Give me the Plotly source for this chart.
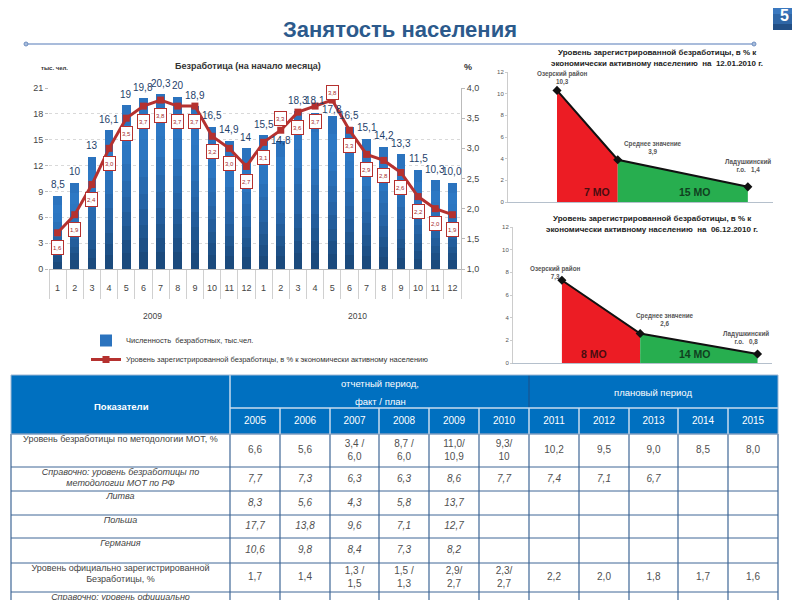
# employment slide: unemployment combo chart, two district charts, indicator table

import plotly.graph_objects as go

SANS = "Liberation Sans, Arial, sans-serif"

# --- main chart data
months = [1, 2, 3, 4, 5, 6, 7, 8, 9, 10, 11, 12] * 2
unemployed = [8.5, 10, 13, 16.1, 19, 19.8, 20.3, 20, 18.9, 16.5, 14.9, 14,
              15.5, 14.8, 18.3, 18.1, 17.8, 16.5, 15.1, 14.2, 13.3, 11.5, 10.3, 10.0]
unemployed_labels = ["8,5", "10", "13", "16,1", "19", "19,8", "20,3", "20", "18,9", "16,5", "14,9", "14",
                     "15,5", "14,8", "18,3", "18,1", "17,8", "16,5", "15,1", "14,2", "13,3", "11,5", "10,3", "10,0"]
rate = [1.6, 1.9, 2.4, 3.0, 3.5, 3.7, 3.8, 3.7, 3.7, 3.2, 3.0, 2.7,
        3.1, 3.3, 3.6, 3.7, 3.8, 3.3, 2.9, 2.8, 2.6, 2.2, 2.0, 1.9]
years = ["2009", "2010"]

# --- district charts data
jan_share = [0, 7, 22]
jan_rate = [10.3, 3.9, 1.4]
dec_share = [0, 9.2, 23]
dec_rate = [7.3, 2.6, 0.8]

# --- table data
table_years = ["2005", "2006", "2007", "2008", "2009", "2010", "2011", "2012", "2013", "2014", "2015"]
row_names = [
    "Уровень безработицы по методологии МОТ, %",
    "<i>Справочно: уровень безработицы по<br>методологии МОТ по РФ</i>",
    "<i>Литва</i>",
    "<i>Польша</i>",
    "<i>Германия</i>",
    "Уровень официально зарегистрированной<br>Безработицы, %",
    "<i>Справочно: уровень официально</i>",
]
row_ilo = ["6,6", "5,6", "3,4 /<br>6,0", "8,7 /<br>6,0", "11,0/<br>10,9", "9,3/<br>10",
           "10,2", "9,5", "9,0", "8,5", "8,0"]
row_ilo_rf = ["7,7", "7,3", "6,3", "6,3", "8,6", "7,7", "7,4", "7,1", "6,7", "", ""]
row_lithuania = ["8,3", "5,6", "4,3", "5,8", "13,7", "", "", "", "", "", ""]
row_poland = ["17,7", "13,8", "9,6", "7,1", "12,7", "", "", "", "", "", ""]
row_germany = ["10,6", "9,8", "8,4", "7,3", "8,2", "", "", "", "", "", ""]
row_official = ["1,7", "1,4", "1,3 /<br>1,5", "1,5 /<br>1,3", "2,9/<br>2,7", "2,3/<br>2,7",
                "2,2", "2,0", "1,8", "1,7", "1,6"]
table_rows = [row_ilo, row_ilo_rf, row_lithuania, row_poland, row_germany, row_official]

# table grid, in page pixels
col_edges = [11, 230, 280, 330, 379, 429, 479, 529, 579, 629, 678, 728, 778]
row_edges = [375, 408, 434, 467, 491, 515, 538, 563, 592, 620]

# The page keeps the browser's 8px body margin, so the figure is 792x592 and
# everything is laid out in page pixels through these two helpers
def px(x):
    return (x - 8) / 792

def py(y):
    return 1 - (y - 8) / 592

fig = go.Figure()

# Bars, layered from tall to short to fake the vertical gradient
x_pos = list(range(1, 25))
levels = [(1.0, "#2b73be"), (0.88, "#2d78c4"), (0.76, "#2c76c1"), (0.64, "#2a70b8"), (0.54, "#286aaf"),
          (0.44, "#2664a6"), (0.35, "#235d9b"), (0.26, "#205790"), (0.18, "#1d5086"), (0.1, "#1b4a7c")]
for i, (frac, colour) in enumerate(levels):
    fig.add_trace(go.Bar(
        x=x_pos, y=[v * frac for v in unemployed], width=0.5,
        marker=dict(color=colour, line=dict(width=0)),
        name="Численность  безработных, тыс.чел.",
        showlegend=(i == 0), hoverinfo="skip",
        xaxis="x", yaxis="y",
    ))

fig.add_trace(go.Scatter(
    x=x_pos, y=rate, mode="lines+markers",
    line=dict(color="#b5312f", width=3),
    marker=dict(color="#b5312f", size=7, symbol="square"),
    name="Уровень зарегистрированной безработицы, в % к экономически активному населению",
    xaxis="x", yaxis="y2",
))

# District charts
def add_district(share, values, xa, ya):
    fig.add_trace(go.Scatter(x=share[:2], y=values[:2], mode="none", fill="tozeroy",
                             fillcolor="#ec1c24", showlegend=False, xaxis=xa, yaxis=ya))
    fig.add_trace(go.Scatter(x=share[1:], y=values[1:], mode="none", fill="tozeroy",
                             fillcolor="#27ae4f", showlegend=False, xaxis=xa, yaxis=ya))
    fig.add_trace(go.Scatter(x=share, y=values, mode="lines+markers",
                             line=dict(color="#111111", width=2),
                             marker=dict(color="#111111", size=7, symbol="diamond"),
                             showlegend=False, xaxis=xa, yaxis=ya))

add_district(jan_share, jan_rate, "x2", "y3")
add_district(dec_share, dec_rate, "x3", "y4")

# Table text, on a hidden axis pair that spans the page in pixels
col_mid = [(col_edges[i] + col_edges[i + 1]) / 2 for i in range(len(col_edges) - 1)]
row_mid = [(row_edges[i] + row_edges[i + 1]) / 2 for i in range(len(row_edges) - 1)]

fig.add_trace(go.Scatter(
    x=col_mid[1:], y=[row_mid[1]] * len(table_years), text=table_years, mode="text",
    textfont=dict(family=SANS, size=10, color="white"),
    showlegend=False, hoverinfo="skip", xaxis="x4", yaxis="y5",
))
for r, values in enumerate(table_rows):
    fig.add_trace(go.Scatter(
        x=col_mid[1:], y=[row_mid[r + 2]] * len(values), text=values, mode="text",
        textfont=dict(family=SANS, size=10, color="#505050"),
        texttemplate="<i>%{text}</i>" if 1 <= r <= 4 else "%{text}",
        showlegend=False, hoverinfo="skip", xaxis="x4", yaxis="y5",
    ))
fig.add_trace(go.Scatter(
    x=[col_mid[0]] * len(row_names), y=[e + 1 for e in row_edges[2:9]], text=row_names,
    mode="text", textposition="bottom center",
    textfont=dict(family=SANS, size=9, color="#444444"),
    showlegend=False, hoverinfo="skip", xaxis="x4", yaxis="y5",
))

shapes = []
# header blocks
shapes.append(dict(type="rect", xref="x4", yref="y5", x0=col_edges[0], x1=col_edges[-1],
                   y0=row_edges[0], y1=row_edges[2], fillcolor="#0070c0", line=dict(width=0), layer="below"))
# body grid
for y in row_edges[2:9]:
    shapes.append(dict(type="line", xref="x4", yref="y5", x0=col_edges[0], x1=col_edges[-1], y0=y, y1=y,
                       line=dict(color="#3f6796", width=1)))
for x in col_edges:
    shapes.append(dict(type="line", xref="x4", yref="y5", x0=x, x1=x, y0=row_edges[2], y1=600,
                       line=dict(color="#3f6796", width=1.2)))
# header dividers
for x in col_edges[1:-1]:
    shapes.append(dict(type="line", xref="x4", yref="y5", x0=x, x1=x, y0=row_edges[1], y1=row_edges[2],
                       line=dict(color="#c9dcef", width=1.5)))
shapes.append(dict(type="line", xref="x4", yref="y5", x0=col_edges[1], x1=col_edges[1], y0=row_edges[0], y1=row_edges[1],
                   line=dict(color="#c9dcef", width=1.5)))
shapes.append(dict(type="line", xref="x4", yref="y5", x0=col_edges[7], x1=col_edges[7], y0=row_edges[0], y1=row_edges[1],
                   line=dict(color="#1d4f86", width=1)))
shapes.append(dict(type="line", xref="x4", yref="y5", x0=col_edges[1], x1=col_edges[-1], y0=row_edges[1], y1=row_edges[1],
                   line=dict(color="#c9dcef", width=1.5)))
shapes.append(dict(type="rect", xref="x4", yref="y5", x0=col_edges[0], x1=col_edges[-1], y0=row_edges[0], y1=row_edges[2],
                   line=dict(color="#9db7d4", width=1)))

# slide rule under the title
shapes.append(dict(type="line", xref="x4", yref="y5", x0=26, x1=754, y0=44, y1=44, line=dict(color="#8ca6cf", width=1.5)))
for x in (26, 754):
    shapes.append(dict(type="circle", xref="x4", yref="y5", x0=x - 2, x1=x + 2, y0=42, y1=46,
                       fillcolor="#a9bddc", line=dict(color="#6f8fc0", width=1)))
# page badge, dark at the foot; paper refs so it can run up past the figure's top edge
for top, bottom, colour in [(0, 14, "#3a78bf"), (14, 24, "#2f66a6"), (24, 30, "#224f86")]:
    shapes.append(dict(type="rect", xref="paper", yref="paper", x0=px(773), x1=px(795), y0=py(bottom), y1=py(top),
                       fillcolor=colour, line=dict(width=0)))

# Year dividers below the month axis
for i in (0.5, 12.5, 24.5):
    shapes.append(dict(type="line", xref="x", yref="y", x0=i, x1=i, y0=0, y1=-6.9, line=dict(color="#c9c9c9", width=1)))

annotations = []

def note(x, y, text, size=8, colour="#333333", family=SANS, **kw):
    annotations.append(dict(x=x, y=y, xref="x4", yref="y5", text=text, showarrow=False,
                            font=dict(family=family, size=size, color=colour), **kw))

# Bar labels; a few sit off their usual spot to dodge the line
label_lift = {13: 1, 16: 6, 15: 12, 14: 11}
for i, (v, t) in enumerate(zip(unemployed, unemployed_labels)):
    annotations.append(dict(x=x_pos[i], y=v, xref="x", yref="y", text=t, showarrow=False,
                            yshift=label_lift.get(i, 11),
                            font=dict(family=SANS, size=10, color="#1f3f6b")))

# Rate labels in red boxes, below the point except two
rate_lift = {13: 12, 16: 8}
for i, v in enumerate(rate):
    annotations.append(dict(x=x_pos[i], y=v, xref="x", yref="y2", text=f"{v:.1f}".replace(".", ","),
                            showarrow=False, yshift=rate_lift.get(i, -15), width=9, height=11,
                            bgcolor="white", bordercolor="#b5312f", borderwidth=1, borderpad=1,
                            font=dict(family=SANS, size=6, color="#a52a2a")))

note(400, 29, "<b>Занятость населения</b>", size=22, colour="#2c5a8c")
note(784, 15, "<b>5</b>", size=16, colour="white")
note(248, 66, "<b>Безработица (на начало месяца)</b>", size=9, colour="#333333")
note(54, 68, "<b>тыс. чел.</b>", size=6)
note(468, 67, "<b>%</b>", size=9)
note(152, 316, years[0], size=8.5, colour="#444444")
note(357, 316, years[1], size=8.5, colour="#444444")

note(657, 52, "<b>Уровень зарегистрированной безработицы, в % к</b>", size=8, colour="#222222")
note(657, 63, "<b>экономически активному населению  на  12.01.2010 г.</b>", size=8, colour="#222222")
note(652, 218, "<b>Уровень зарегистрированной безработицы, в % к</b>", size=8, colour="#222222")
note(652, 229, "<b>экономически активному населению  на  06.12.2010 г.</b>", size=8, colour="#222222")

note(562, 78, "<b>Озерский район</b><br><b>10,3</b>", size=6.3, colour="#555555")
note(653, 148, "<b>Среднее значение</b><br><b>3,9</b>", size=6.3, colour="#555555")
note(748, 166, "<b>Ладушкинский</b><br><b>г.о.   1,4</b>", size=6.3, colour="#555555")
note(555, 273, "<b>Озерский район</b><br><b>7,3</b>", size=6.3, colour="#555555")
note(665, 320, "<b>Среднее значение</b><br><b>2,6</b>", size=6.3, colour="#555555")
note(746, 338, "<b>Ладушкинский</b><br><b>г.о.   0,8</b>", size=6.3, colour="#555555")

note(597, 192, "<b>7 МО</b>", size=10.5, colour="#4a0d10")
note(695, 192, "<b>15 МО</b>", size=10.5, colour="#103f20")
note(594, 354, "<b>8 МО</b>", size=10.5, colour="#4a0d10")
note(695, 354, "<b>14 МО</b>", size=10.5, colour="#103f20")

note(121, 406, "<b>Показатели</b>", size=9.5, colour="white")
note(380, 383, "отчетный период,", size=9.5, colour="white")
note(380, 401, "факт / план", size=9.5, colour="white")
note(653, 392, "плановый период", size=9.5, colour="white")

tick_small = dict(family=SANS, size=6, color="#555555")

fig.update_layout(
    width=792, height=592, margin=dict(l=0, r=0, t=0, b=0, autoexpand=False),
    paper_bgcolor="white", plot_bgcolor="rgba(0,0,0,0)",
    barmode="overlay", separators=", ", bargap=0,
    shapes=shapes, annotations=annotations,
    legend=dict(x=px(86), y=py(326), xanchor="left", yanchor="top", bgcolor="rgba(0,0,0,0)",
                font=dict(family=SANS, size=7.5, color="#333333"),
                itemwidth=30, tracegroupgap=0),
    xaxis=dict(domain=[px(49), px(461)], range=[0.5, 24.5], tickmode="array", tickvals=x_pos, ticktext=months,
               ticks="outside", ticklen=10, tickcolor="rgba(0,0,0,0)",
               showgrid=False, showline=True, linecolor="#bbbbbb", zeroline=False,
               tickfont=dict(family=SANS, size=9, color="#444444"), anchor="y",
               minor=dict(tickmode="array", tickvals=[i + 0.5 for i in range(0, 25)], ticks="outside", ticklen=29, tickcolor="#d0d0d0")),
    yaxis=dict(domain=[py(269), py(88)], range=[0, 21], tickmode="array", tickvals=[0, 3, 6, 9, 12, 15, 18, 21],
               showgrid=True, gridcolor="#d9d9d9", griddash="dot", zeroline=False, ticks="outside", ticklen=3, tickcolor="#bbbbbb",
               showline=False, tickfont=dict(family=SANS, size=9, color="#444444"), anchor="x"),
    yaxis2=dict(domain=[py(269), py(88)], range=[1, 4], overlaying="y", side="right", anchor="x",
                tickmode="array", tickvals=[1, 1.5, 2, 2.5, 3, 3.5, 4], tickformat=".1f", showgrid=False, zeroline=False,
                ticks="outside", ticklen=3, tickcolor="#bbbbbb", showline=True, linecolor="#bbbbbb",
                tickfont=dict(family=SANS, size=9, color="#444444")),
    xaxis2=dict(domain=[px(508), px(773)], range=[-5.65, 24.9], visible=True, showticklabels=False, ticks="",
                showgrid=False, zeroline=False, showline=True, linecolor="#b5c0cc", anchor="y3"),
    yaxis3=dict(domain=[py(202), py(72)], range=[0, 12], dtick=2, showgrid=False, zeroline=False,
                showline=True, linecolor="#cccccc", ticks="outside", ticklen=2, tickcolor="#cccccc", tickfont=tick_small, anchor="x2"),
    xaxis3=dict(domain=[px(513), px(772)], range=[-5.75, 24.7], visible=True, showticklabels=False, ticks="",
                showgrid=False, zeroline=False, showline=True, linecolor="#b5c0cc", anchor="y4"),
    yaxis4=dict(domain=[py(363), py(227)], range=[0, 12], dtick=2, showgrid=False, zeroline=False,
                showline=True, linecolor="#cccccc", ticks="outside", ticklen=2, tickcolor="#cccccc", tickfont=tick_small, anchor="x3"),
    xaxis4=dict(domain=[0, 1], range=[8, 800], visible=False, anchor="y5"),
    yaxis5=dict(domain=[0, 1], range=[600, 8], visible=False, anchor="x4"),
)

fig.write_html("out.html")
